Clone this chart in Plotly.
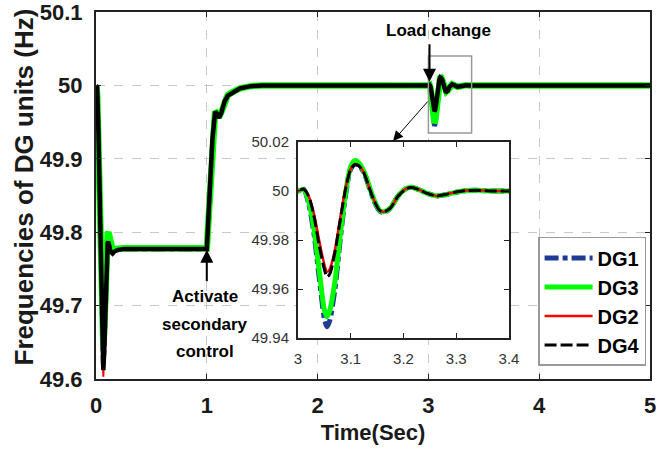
import plotly.graph_objects as go

# ---------------- data ----------------
T = [0, 0.01, 0.02, 0.03, 0.04, 0.05, 0.06, 0.066, 0.075, 0.085, 0.095, 0.105, 0.112, 0.12, 0.13, 0.15, 0.17, 0.2, 0.25,
     1.0, 1.01, 1.03, 1.05, 1.065, 1.075, 1.09, 1.11, 1.13, 1.16, 1.19, 1.22, 1.25, 1.3, 1.4, 1.5,
     3.0, 3.01, 3.02, 3.03, 3.04, 3.05, 3.055, 3.06, 3.07, 3.08, 3.09, 3.1, 3.108, 3.115, 3.125, 3.135, 3.145, 3.155,
     3.163, 3.175, 3.19, 3.205, 3.215, 3.23, 3.245, 3.263, 3.28, 3.3, 3.32, 3.34, 3.37, 3.4, 5.0]

DG1 = [50.0, 49.995, 49.94, 49.86, 49.775, 49.70, 49.64, 49.62, 49.65, 49.72, 49.772, 49.79, 49.792, 49.785, 49.777, 49.774, 49.776, 49.777, 49.777,
       49.777, 49.80, 49.865, 49.925, 49.955, 49.964, 49.962, 49.956, 49.962, 49.978, 49.986, 49.989, 49.991, 49.996, 49.999, 50.0,
       50.0, 50.001, 49.995, 49.983, 49.965, 49.948, 49.9446, 49.947, 49.960, 49.980, 49.998, 50.009, 50.011, 50.0105, 50.0075, 50.0015, 49.9955, 49.9918,
       49.9912, 49.993, 49.998, 50.001, 50.0015, 50.0005, 49.999, 49.998, 49.9985, 49.9995, 50.0002, 50.0003, 50.0, 50.0, 50.0]

DG3 = [50.0, 49.99, 49.93, 49.85, 49.77, 49.70, 49.655, 49.645, 49.67, 49.73, 49.78, 49.798, 49.80, 49.792, 49.782, 49.776, 49.777, 49.778, 49.778,
       49.778, 49.801, 49.866, 49.926, 49.956, 49.965, 49.963, 49.957, 49.963, 49.979, 49.987, 49.990, 49.992, 49.996, 49.999, 50.0,
       50.0, 50.0007, 49.996, 49.985, 49.968, 49.9515, 49.9487, 49.951, 49.963, 49.982, 49.999, 50.010, 50.0125, 50.0115, 50.008, 50.002, 49.996, 49.992,
       49.9915, 49.993, 49.998, 50.001, 50.0015, 50.0005, 49.999, 49.998, 49.9985, 49.9995, 50.0002, 50.0003, 50.0, 50.0, 50.0]

DG2 = [50.0, 49.997, 49.945, 49.865, 49.775, 49.695, 49.625, 49.603, 49.635, 49.705, 49.763, 49.784, 49.786, 49.780, 49.773, 49.770, 49.774, 49.776, 49.777,
       49.777, 49.80, 49.865, 49.925, 49.955, 49.964, 49.962, 49.956, 49.962, 49.978, 49.986, 49.989, 49.991, 49.996, 49.999, 50.0,
       50.0, 50.0008, 49.998, 49.991, 49.980, 49.970, 49.967, 49.968, 49.976, 49.989, 50.001, 50.009, 50.011, 50.0105, 50.0075, 50.0015, 49.9958, 49.992,
       49.9915, 49.993, 49.998, 50.001, 50.0014, 50.0005, 49.999, 49.998, 49.9986, 49.9996, 50.0002, 50.0003, 50.0, 50.0, 50.0]

DG4 = [50.0, 49.998, 49.95, 49.87, 49.78, 49.70, 49.635, 49.612, 49.64, 49.71, 49.765, 49.785, 49.787, 49.781, 49.774, 49.771, 49.774, 49.776, 49.777,
       49.777, 49.80, 49.865, 49.925, 49.955, 49.964, 49.962, 49.956, 49.962, 49.978, 49.986, 49.989, 49.991, 49.996, 49.999, 50.0,
       50.0, 50.0008, 49.998, 49.990, 49.978, 49.968, 49.965, 49.966, 49.975, 49.988, 50.0005, 50.0088, 50.0108, 50.0103, 50.0073, 50.0013, 49.9957, 49.992,
       49.9915, 49.993, 49.998, 50.0008, 50.0014, 50.0005, 49.999, 49.998, 49.9986, 49.9996, 50.0002, 50.0003, 50.0, 50.0, 50.0]

NAMES = ["DG1", "DG3", "DG2", "DG4"]
SERIES = [DG1, DG3, DG2, DG4]
COLORS = ["#1f3a93", "#00ff00", "#ff0000", "#000000"]
DASH_MAIN = ["14px,4px,5px,4px", "solid", "solid", "solid"]
DASH_INSET = ["14px,4px,5px,4px", "solid", "solid", "12px,4px"]
W_MAIN = [5, 6.5, 2, 4.5]
W_INSET = [5, 5, 2.5, 3]

MAIN_XTICKS = [0, 1, 2, 3, 4, 5]
MAIN_YTICKS = [49.6, 49.7, 49.8, 49.9, 50.0, 50.1]
INSET_XTICKS = [3, 3.1, 3.2, 3.3, 3.4]
INSET_YTICKS = [49.94, 49.96, 49.98, 50.0, 50.02]

FONT = "Liberation Sans, Arial, sans-serif"
TXT = "#1a1a1a"

fig = go.Figure()
for n, s, c, d, w in zip(NAMES, SERIES, COLORS, DASH_MAIN, W_MAIN):
    fig.add_trace(go.Scatter(x=T, y=s, mode="lines", name=n, showlegend=False,
                             line=dict(color=c, width=w, dash=d), xaxis="x", yaxis="y"))
for n, s, c, d, w in zip(NAMES, SERIES, COLORS, DASH_INSET, W_INSET):
    fig.add_trace(go.Scatter(x=T, y=s, mode="lines", name=n, showlegend=True,
                             line=dict(color=c, width=w, dash=d, shape="spline", smoothing=0.8),
                             xaxis="x2", yaxis="y2"))

axis_common = dict(showline=True, linecolor="#222", linewidth=2, mirror="ticks", automargin=False,
                   ticklabeloverflow="allow",
                   ticks="inside", ticklen=5, tickcolor="#222", tickwidth=1, zeroline=False)

fig.update_layout(
    width=671, height=457,
    margin=dict(l=96, r=21, t=12, b=78, autoexpand=False),
    paper_bgcolor="white", plot_bgcolor="white",
    showlegend=True,
    xaxis=dict(range=[0, 5], tickvals=MAIN_XTICKS, showgrid=True, gridcolor="#c8c8c8", griddash="dash", gridwidth=1,
               tickfont=dict(family=FONT, size=22, color=TXT, weight="bold"), ticklabelstandoff=6,
               title=dict(text="Time(Sec)", standoff=7, font=dict(family=FONT, size=22, color=TXT, weight="bold")),
               **axis_common),
    yaxis=dict(range=[49.6, 50.1], tickvals=MAIN_YTICKS, showgrid=True, gridcolor="#c8c8c8", griddash="dash", gridwidth=1,
               tickfont=dict(family=FONT, size=22, color=TXT, weight="bold"), ticklabelstandoff=7,
               **axis_common),
    xaxis2=dict(domain=[0.3646, 0.7455], anchor="y2", range=[3, 3.4], tickvals=INSET_XTICKS, showgrid=False,
                tickfont=dict(family=FONT, size=15, color="#333"), ticklabelstandoff=6, **axis_common),
    yaxis2=dict(domain=[0.1117, 0.6458], anchor="x2", range=[49.94, 50.02], tickvals=INSET_YTICKS, showgrid=False,
                tickfont=dict(family=FONT, size=15, color="#333"), ticklabelstandoff=4, **axis_common),
    legend=dict(x=0.798, y=0.387, xanchor="left", yanchor="top", bgcolor="white",
                bordercolor="#999", borderwidth=1.5, itemwidth=48, tracegroupgap=0,
                font=dict(family=FONT, size=20, color="#000", weight="bold")),
)

# y-axis title placed as rotated text
fig.add_annotation(x=-0.13, y=0.5245, xref="paper", yref="paper", text="Frequencies of DG units (Hz)",
                   textangle=-90, showarrow=False, xanchor="center", yanchor="middle",
                   font=dict(family=FONT, size=26, color=TXT, weight="bold"))

fig.add_shape(type="rect", xref="x", yref="y", x0=3.0, x1=3.39, y0=49.935, y1=50.04,
              line=dict(color="#999", width=1.5))

fig.add_annotation(x=3.09, y=50.075, xref="x", yref="y", text="Load change", showarrow=False,
                   font=dict(family=FONT, size=17, color="#000", weight="bold"))
fig.add_annotation(x=3.01, y=50.005, ax=3.01, ay=50.058, xref="x", yref="y", axref="x", ayref="y",
                   text="", showarrow=True, arrowhead=2, arrowsize=1.3, arrowwidth=2, arrowcolor="#000")
fig.add_annotation(x=2.681, y=49.9243, ax=3.005, ay=49.98, xref="x", yref="y", axref="x", ayref="y",
                   text="", showarrow=True, arrowhead=2, arrowsize=2, arrowwidth=1, arrowcolor="#000")
fig.add_annotation(x=1.0, y=49.776, ax=1.0, ay=49.731, xref="x", yref="y", axref="x", ayref="y",
                   text="", showarrow=True, arrowhead=2, arrowsize=1.3, arrowwidth=2, arrowcolor="#000")
ACT_LINES = ["Activate", "secondary", "control"]
ACT_Y = [49.712, 49.674, 49.637]
for txt, yy in zip(ACT_LINES, ACT_Y):
    fig.add_annotation(x=0.985, y=yy, xref="x", yref="y", text=txt, showarrow=False,
                       font=dict(family=FONT, size=17, color="#000", weight="bold"))

fig.write_html("out.html")
